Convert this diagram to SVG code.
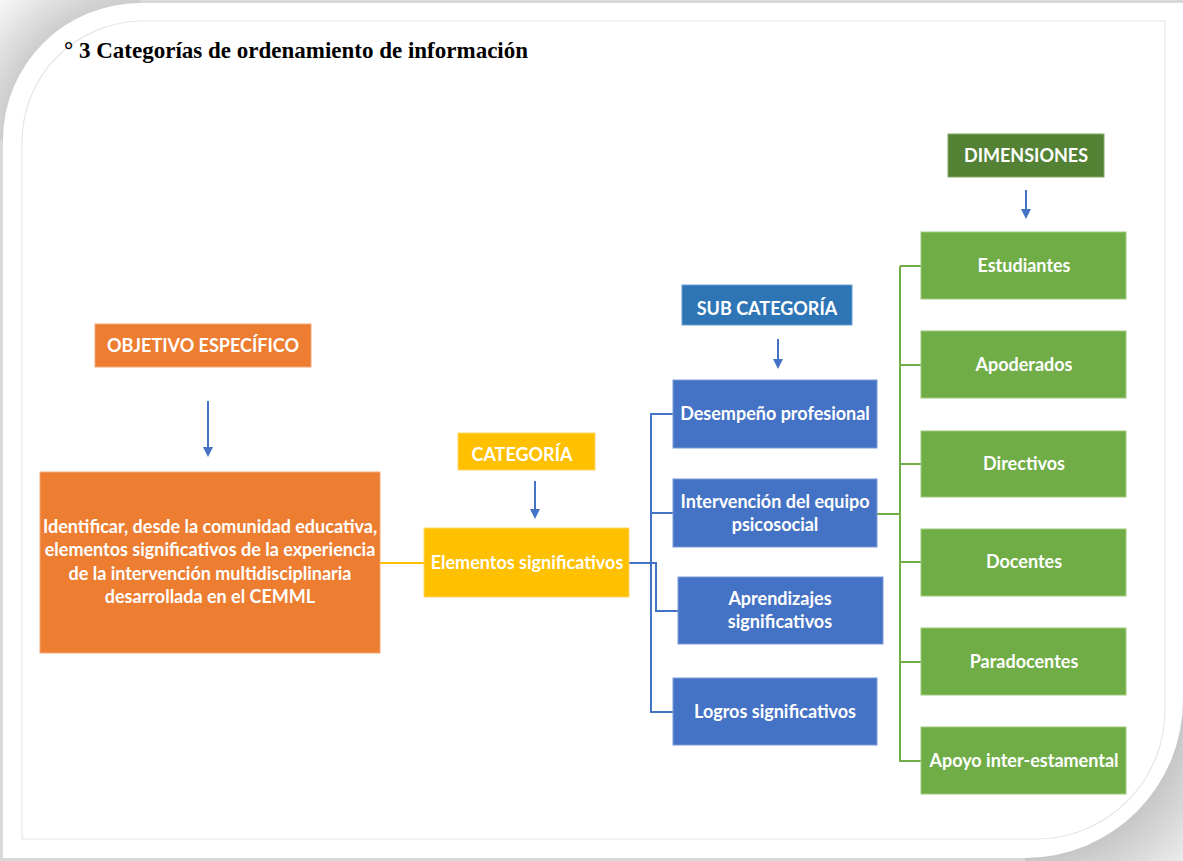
<svg xmlns="http://www.w3.org/2000/svg" width="1183" height="861" viewBox="0 0 1183 861">
<defs>
<style>
.t{font-family:Lato,"Liberation Sans",sans-serif;font-weight:bold;font-size:18px;fill:#ffffff;text-anchor:middle}
.title{font-family:"Liberation Serif","Times New Roman",serif;font-weight:bold;font-size:23px;fill:#000}
.or{fill:#ED7D31;stroke:#F4A878;stroke-width:1}
.ye{fill:#FFC000;stroke:#FFD666;stroke-width:1}
.bl{fill:#4472C4;stroke:#7A9BD6;stroke-width:1}
.bh{fill:#2E75B6;stroke:#6A9FD0;stroke-width:1}
.gr{fill:#70AD47;stroke:#9CC97F;stroke-width:1}
.gh{fill:#548235;stroke:#84A86C;stroke-width:1}
.cb{fill:none;stroke:#4472C4;stroke-width:2}
.cg{fill:none;stroke:#70AD47;stroke-width:2}
.cy{fill:none;stroke:#FFC000;stroke-width:2}
</style>
<marker id="ah" viewBox="0 0 10 10" refX="8" refY="5" markerWidth="5" markerHeight="5" orient="auto" markerUnits="strokeWidth">
<path d="M0,0 L10,5 L0,10 z" fill="#4472C4"/>
</marker>
<radialGradient id="sh" cx="140" cy="140" r="198" gradientUnits="userSpaceOnUse">
<stop offset="0.69" stop-color="#cdcdcd"/>
<stop offset="1" stop-color="#f8f8f8"/>
</radialGradient>
<radialGradient id="sh2" cx="1025" cy="700" r="230" gradientUnits="userSpaceOnUse">
<stop offset="0.68" stop-color="#c6c6c6"/>
<stop offset="1" stop-color="#eeeeee"/>
</radialGradient>
</defs>
<rect x="0" y="0" width="1183" height="861" fill="#d9d9d9"/>
<rect x="0" y="0" width="140" height="140" fill="url(#sh)"/>
<rect x="1025" y="700" width="158" height="161" fill="url(#sh2)"/>
<path d="M3,140 A137,137 0 0 1 140,3 L1183,3 L1183,700 A158,158 0 0 1 1025,858 L3,858 Z" fill="#ffffff"/>
<path d="M22,143 A121,121 0 0 1 143,21 L1165,21 L1165,710 A129,129 0 0 1 1036,839 L22,839 Z" fill="none" stroke="#e6e6e6" stroke-width="1.2"/>
<text class="title" x="64" y="58">° 3 Categorías de ordenamiento de información</text>
<g id="connectors">
<line class="cb" x1="208" y1="401" x2="208" y2="455" marker-end="url(#ah)"/>
<line class="cb" x1="535" y1="481" x2="535" y2="517" marker-end="url(#ah)"/>
<line class="cb" x1="778" y1="339" x2="778" y2="367" marker-end="url(#ah)"/>
<line class="cb" x1="1026" y1="190" x2="1026" y2="217" marker-end="url(#ah)"/>
<line class="cy" x1="380" y1="563" x2="424" y2="563"/>
<polyline class="cb" points="673,414 651,414 651,712 673,712"/>
<line class="cb" x1="651" y1="513" x2="673" y2="513"/>
<polyline class="cb" points="629,563 656,563 656,611 678,611"/>
<line class="cg" x1="877" y1="514" x2="900" y2="514"/>
<line class="cg" x1="900" y1="266" x2="900" y2="762"/>
<line class="cg" x1="900" y1="266" x2="921" y2="266"/>
<line class="cg" x1="900" y1="365" x2="921" y2="365"/>
<line class="cg" x1="900" y1="464" x2="921" y2="464"/>
<line class="cg" x1="900" y1="562" x2="921" y2="562"/>
<line class="cg" x1="900" y1="662" x2="921" y2="662"/>
<line class="cg" x1="899" y1="761" x2="921" y2="761"/>
</g>
<g id="objetivo-header"><rect class="or" x="95" y="324" width="216" height="43"/><text class="t" x="203" y="352">OBJETIVO ESPECÍFICO</text></g>
<g id="objetivo"><rect class="or" x="40" y="472" width="340" height="181"/>
<text class="t" x="210" y="533">Identificar, desde la comunidad  educativa,</text>
<text class="t" x="210" y="556">elementos significativos de la experiencia</text>
<text class="t" x="210" y="580">de la intervención multidisciplinaria</text>
<text class="t" x="210" y="603">desarrollada en el CEMML</text></g>
<g id="categoria-header"><rect class="ye" x="458" y="433" width="137" height="37"/><text class="t" x="522" y="461">CATEGORÍA</text></g>
<g id="categoria"><rect class="ye" x="424" y="528" width="205" height="69"/><text class="t" x="527" y="569">Elementos significativos</text></g>
<g id="subcategoria-header"><rect class="bh" x="682" y="285" width="170" height="40"/><text class="t" x="767" y="315">SUB CATEGORÍA</text></g>
<g id="sub-desempeno"><rect class="bl" x="673" y="380" width="204" height="68"/><text class="t" x="775" y="420">Desempeño profesional</text></g>
<g id="sub-intervencion"><rect class="bl" x="673" y="479" width="204" height="68"/><text class="t" x="775" y="508">Intervención del equipo</text><text class="t" x="775" y="531">psicosocial</text></g>
<g id="sub-aprendizajes"><rect class="bl" x="678" y="577" width="205" height="67"/><text class="t" x="780" y="605">Aprendizajes</text><text class="t" x="780" y="628">significativos</text></g>
<g id="sub-logros"><rect class="bl" x="673" y="678" width="204" height="67"/><text class="t" x="775" y="718">Logros significativos</text></g>
<g id="dimensiones-header"><rect class="gh" x="948" y="134" width="156" height="43"/><text class="t" x="1026" y="162">DIMENSIONES</text></g>
<g id="dim-estudiantes"><rect class="gr" x="921" y="232" width="205" height="67"/><text class="t" x="1024" y="272">Estudiantes</text></g>
<g id="dim-apoderados"><rect class="gr" x="921" y="331" width="205" height="67"/><text class="t" x="1024" y="371">Apoderados</text></g>
<g id="dim-directivos"><rect class="gr" x="921" y="431" width="205" height="66"/><text class="t" x="1024" y="470">Directivos</text></g>
<g id="dim-docentes"><rect class="gr" x="921" y="529" width="205" height="67"/><text class="t" x="1024" y="568">Docentes</text></g>
<g id="dim-paradocentes"><rect class="gr" x="921" y="628" width="205" height="67"/><text class="t" x="1024" y="668">Paradocentes</text></g>
<g id="dim-apoyo"><rect class="gr" x="921" y="727" width="205" height="67"/><text class="t" x="1024" y="767">Apoyo inter-estamental</text></g>
</svg>
